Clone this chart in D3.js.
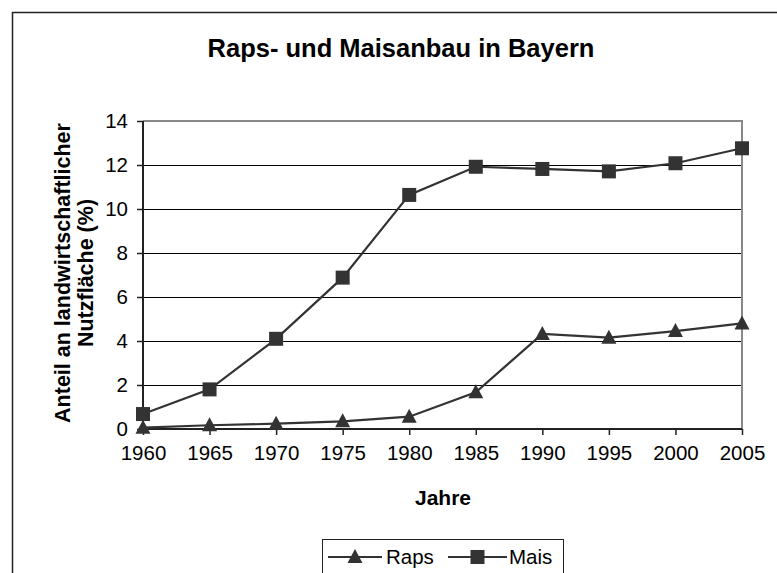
<!DOCTYPE html>
<html>
<head>
<meta charset="utf-8">
<script src="https://cdn.jsdelivr.net/npm/d3@7"></script>
<style>
    html, body { margin: 0; padding: 0; background: #fff; }
    svg { display: block; font-family: "Liberation Sans", Arial, sans-serif; }
</style>
</head>
<body>
<main id="root"><section id="content"></section></main>
<script>
"use strict";

var years = [ 1960, 1965, 1970, 1975, 1980, 1985, 1990, 1995, 2000, 2005 ];
var raps = [ 0.06, 0.17, 0.24, 0.35, 0.56, 1.67, 4.32, 4.15, 4.45, 4.8 ];
var mais = [ 0.68, 1.8, 4.1, 6.88, 10.64, 11.92, 11.82, 11.71, 12.08, 12.76 ];
var y_ticks = [ 0, 2, 4, 6, 8, 10, 12, 14 ];
var series_names = [ 'Raps', 'Mais' ];

var title_text = 'Raps- und Maisanbau in Bayern';
var x_title = 'Jahre';
var y_title = [ 'Anteil an landwirtschaftlicher', 'Nutzfläche (%)' ];

var width = 777;
var height = 573;
var ink = '#333';

var svg = d3.select('section#content')
    .append('svg')
    .attr('width', width)
    .attr('height', height);

// outer chart border (runs off the right and bottom edge)
svg.append('rect')
    .attr('x', 12.5).attr('y', 12.5)
    .attr('width', 900).attr('height', 700)
    .attr('fill', 'none')
    .attr('stroke', '#222')
    .attr('stroke-width', 1.5);

var x = d3.scaleLinear().domain( [ years[0], years[years.length - 1] ] ).range( [ 143, 742 ] );
var y = d3.scaleLinear().domain( [ 0, 14 ] ).range( [ 429, 121 ] );

// gridlines
svg.append('g')
    .selectAll('line')
    .data( y_ticks.filter( function( d ) { return d > 0 && d < 14; } ) )
    .enter().append('line')
    .attr('x1', x.range()[0]).attr('x2', x.range()[1])
    .attr('y1', function( d ) { return Math.round( y( d ) ) + 0.5; })
    .attr('y2', function( d ) { return Math.round( y( d ) ) + 0.5; })
    .attr('stroke', '#000')
    .attr('stroke-width', 1);

// plot area top / right border
svg.append('path')
    .attr('d', 'M' + x.range()[0] + ',' + y( 14 ) + 'H' + x.range()[1] + 'V' + y( 0 ))
    .attr('fill', 'none')
    .attr('stroke', '#888')
    .attr('stroke-width', 2);

// axes
var x_axis = d3.axisBottom( x ).tickValues( years ).tickSize( 6 ).tickPadding( 10 ).tickFormat( d3.format('d') );
var y_axis = d3.axisLeft( y ).tickValues( y_ticks ).tickSize( 6 ).tickPadding( 9 );

var gx = svg.append('g').attr('transform', 'translate(0,' + y( 0 ) + ')').call( x_axis );
var gy = svg.append('g').attr('transform', 'translate(' + x.range()[0] + ',0)').call( y_axis );

[ gx, gy ].forEach( function( g ) {
    g.select('.domain').attr('stroke', '#222').attr('stroke-width', 2);
    g.selectAll('.tick line').attr('stroke', '#222').attr('stroke-width', 1.5);
    g.selectAll('.tick text')
        .attr('fill', '#000')
        .attr('font-size', 20.5)
        .attr('font-family', '"Liberation Sans", Arial, sans-serif');
});
gx.select('.domain').attr('d', 'M' + x.range()[0] + ',0H' + x.range()[1]);
gy.select('.domain').attr('d', 'M0,' + y( 0 ) + 'V' + y( 14 ));

// lines
var line = d3.line()
    .x( function( d, i ) { return x( years[i] ); })
    .y( function( d ) { return y( d ); });

[ raps, mais ].forEach( function( values ) {
    svg.append('path')
        .datum( values )
        .attr('d', line)
        .attr('fill', 'none')
        .attr('stroke', ink)
        .attr('stroke-width', 2.2);
});

function triangle( g, cx, cy ) {
    g.append('path')
        .attr('d', 'M' + cx + ',' + ( cy - 8 ) + 'L' + ( cx + 7.5 ) + ',' + ( cy + 6 ) + 'L' + ( cx - 7.5 ) + ',' + ( cy + 6 ) + 'Z')
        .attr('fill', ink);
}

function square( g, cx, cy ) {
    g.append('rect')
        .attr('x', cx - 7).attr('y', cy - 7)
        .attr('width', 14).attr('height', 14)
        .attr('fill', ink);
}

var marks = svg.append('g');
raps.forEach( function( d, i ) { triangle( marks, x( years[i] ), y( d ) ); });
mais.forEach( function( d, i ) { square( marks, x( years[i] ), y( d ) ); });

// titles
svg.append('text')
    .attr('x', 401).attr('y', 57)
    .attr('text-anchor', 'middle')
    .attr('font-size', 25.5)
    .attr('font-weight', 'bold')
    .text( title_text );

svg.append('text')
    .attr('x', 443).attr('y', 505)
    .attr('text-anchor', 'middle')
    .attr('font-size', 21)
    .attr('font-weight', 'bold')
    .text( x_title );

svg.append('g')
    .attr('transform', 'translate(0,273) rotate(-90)')
    .selectAll('text')
    .data( y_title )
    .enter().append('text')
    .attr('x', 0)
    .attr('y', function( d, i ) { return 70 + i * 23; })
    .attr('text-anchor', 'middle')
    .attr('font-size', 21.5)
    .attr('font-weight', 'bold')
    .text( function( d ) { return d; });

// legend
var legend = svg.append('g');
legend.append('rect')
    .attr('x', 322.5).attr('y', 539.5)
    .attr('width', 241).attr('height', 60)
    .attr('fill', '#fff')
    .attr('stroke', '#222')
    .attr('stroke-width', 1);

var legend_items = [
    { name: series_names[0], x0: 328, x1: 382, text_x: 386, mark: triangle },
    { name: series_names[1], x0: 448, x1: 507, text_x: 509, mark: square }
];

legend_items.forEach( function( item ) {
    legend.append('line')
        .attr('x1', item.x0).attr('x2', item.x1)
        .attr('y1', 557).attr('y2', 557)
        .attr('stroke', ink)
        .attr('stroke-width', 2.2);
    item.mark( legend, ( item.x0 + item.x1 ) / 2, 557 );
    legend.append('text')
        .attr('x', item.text_x).attr('y', 564)
        .attr('font-size', 20.5)
        .text( item.name );
});
</script>
</body>
</html>
